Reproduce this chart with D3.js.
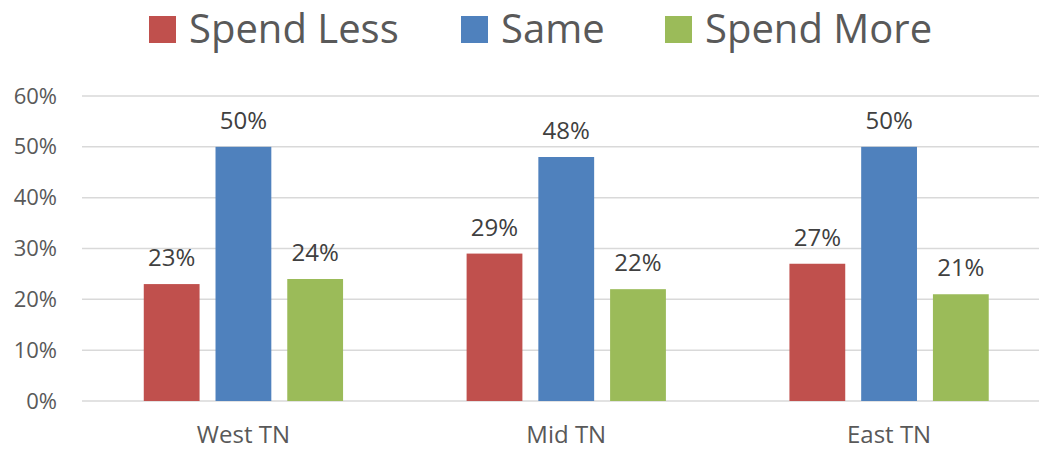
<!DOCTYPE html>
<html>
<head>
<meta charset="utf-8">
<script src="https://cdn.jsdelivr.net/npm/d3@7"></script>
<style>
  body { margin: 0; background: #fff; }
  svg { display: block; font-family: 'Open Sans', sans-serif; }
</style>
</head>
<body>
<svg id="chart" width="1039" height="450"></svg>
<script>
  // chart data
  var regions = ['West TN', 'Mid TN', 'East TN'];
  var seriesNames = ['Spend Less', 'Same', 'Spend More'];
  var seriesColors = ['#C0504D', '#4F81BD', '#9BBB59'];
  var spendLess = [23, 29, 27];
  var same = [50, 48, 50];
  var spendMore = [24, 22, 21];
  var yTicks = [0, 10, 20, 30, 40, 50, 60];

  var seriesValues = [spendLess, same, spendMore];

  var svg = d3.select('#chart');

  // plot area, the right side runs past the picture edge like the original
  var plot = { left: 82, right: 1050.5, top: 96, bottom: 401 };

  var x0 = d3.scaleBand()
    .domain(regions)
    .range([plot.left, plot.right])
    .paddingInner(0)
    .paddingOuter(0);

  var groupWidth = 199.3;
  var x1 = d3.scaleBand()
    .domain(seriesNames)
    .range([0, groupWidth])
    .paddingInner(16 / 72)
    .paddingOuter(0);

  var y = d3.scaleLinear()
    .domain([0, 60])
    .range([plot.bottom, plot.top]);

  // gridlines
  svg.append('g')
    .selectAll('line')
    .data(yTicks)
    .enter()
    .append('line')
    .attr('x1', plot.left)
    .attr('x2', 1039)
    .attr('y1', function(d) { return y(d); })
    .attr('y2', function(d) { return y(d); })
    .style('stroke', '#d9d9d9')
    .style('stroke-width', 1.5);

  // y axis labels
  var yAxis = d3.axisLeft(y)
    .tickValues(yTicks)
    .tickSize(0)
    .tickPadding(0)
    .tickFormat(function(d) { return d + '%'; });

  var yG = svg.append('g')
    .attr('transform', 'translate(57,0)')
    .call(yAxis);
  yG.select('.domain').remove();
  yG.selectAll('text')
    .style('font-family', "'Open Sans', sans-serif")
    .style('font-size', '22px')
    .style('fill', '#595959');

  // bars
  var groups = svg.append('g')
    .selectAll('g')
    .data(regions)
    .enter()
    .append('g')
    .attr('transform', function(d) {
      return 'translate(' + (x0(d) + (x0.bandwidth() - groupWidth) / 2) + ',0)';
    });

  groups.selectAll('rect')
    .data(function(d, i) {
      return seriesNames.map(function(s, j) {
        return { series: s, value: seriesValues[j][i], color: seriesColors[j] };
      });
    })
    .enter()
    .append('rect')
    .attr('x', function(d) { return x1(d.series); })
    .attr('width', x1.bandwidth())
    .attr('y', function(d) { return y(d.value); })
    .attr('height', function(d) { return y(0) - y(d.value); })
    .style('fill', function(d) { return d.color; });

  // data labels
  groups.selectAll('text')
    .data(function(d, i) {
      return seriesNames.map(function(s, j) {
        return { series: s, value: seriesValues[j][i] };
      });
    })
    .enter()
    .append('text')
    .attr('x', function(d) { return x1(d.series) + x1.bandwidth() / 2; })
    .attr('y', function(d) { return y(d.value) - 18; })
    .attr('text-anchor', 'middle')
    .style('font-size', '24px')
    .style('fill', '#404040')
    .text(function(d) { return d.value + '%'; });

  // category labels
  var xAxis = d3.axisBottom(x0).tickSize(0).tickPadding(0);
  var xG = svg.append('g')
    .attr('transform', 'translate(0,' + plot.bottom + ')')
    .call(xAxis);
  xG.select('.domain').remove();
  xG.selectAll('text')
    .attr('dy', null)
    .attr('y', 42)
    .style('font-family', "'Open Sans', sans-serif")
    .style('font-size', '24px')
    .style('fill', '#595959');

  // legend
  var legendX = [149, 461, 665];
  var legend = svg.append('g')
    .selectAll('g')
    .data(seriesNames)
    .enter()
    .append('g')
    .attr('transform', function(d, i) { return 'translate(' + legendX[i] + ',16)'; });

  legend.append('rect')
    .attr('width', 27)
    .attr('height', 27)
    .style('fill', function(d, i) { return seriesColors[i]; });

  legend.append('text')
    .attr('x', 40)
    .attr('y', 27)
    .style('font-size', '40px')
    .style('fill', '#595959')
    .text(function(d) { return d; });
</script>
</body>
</html>
